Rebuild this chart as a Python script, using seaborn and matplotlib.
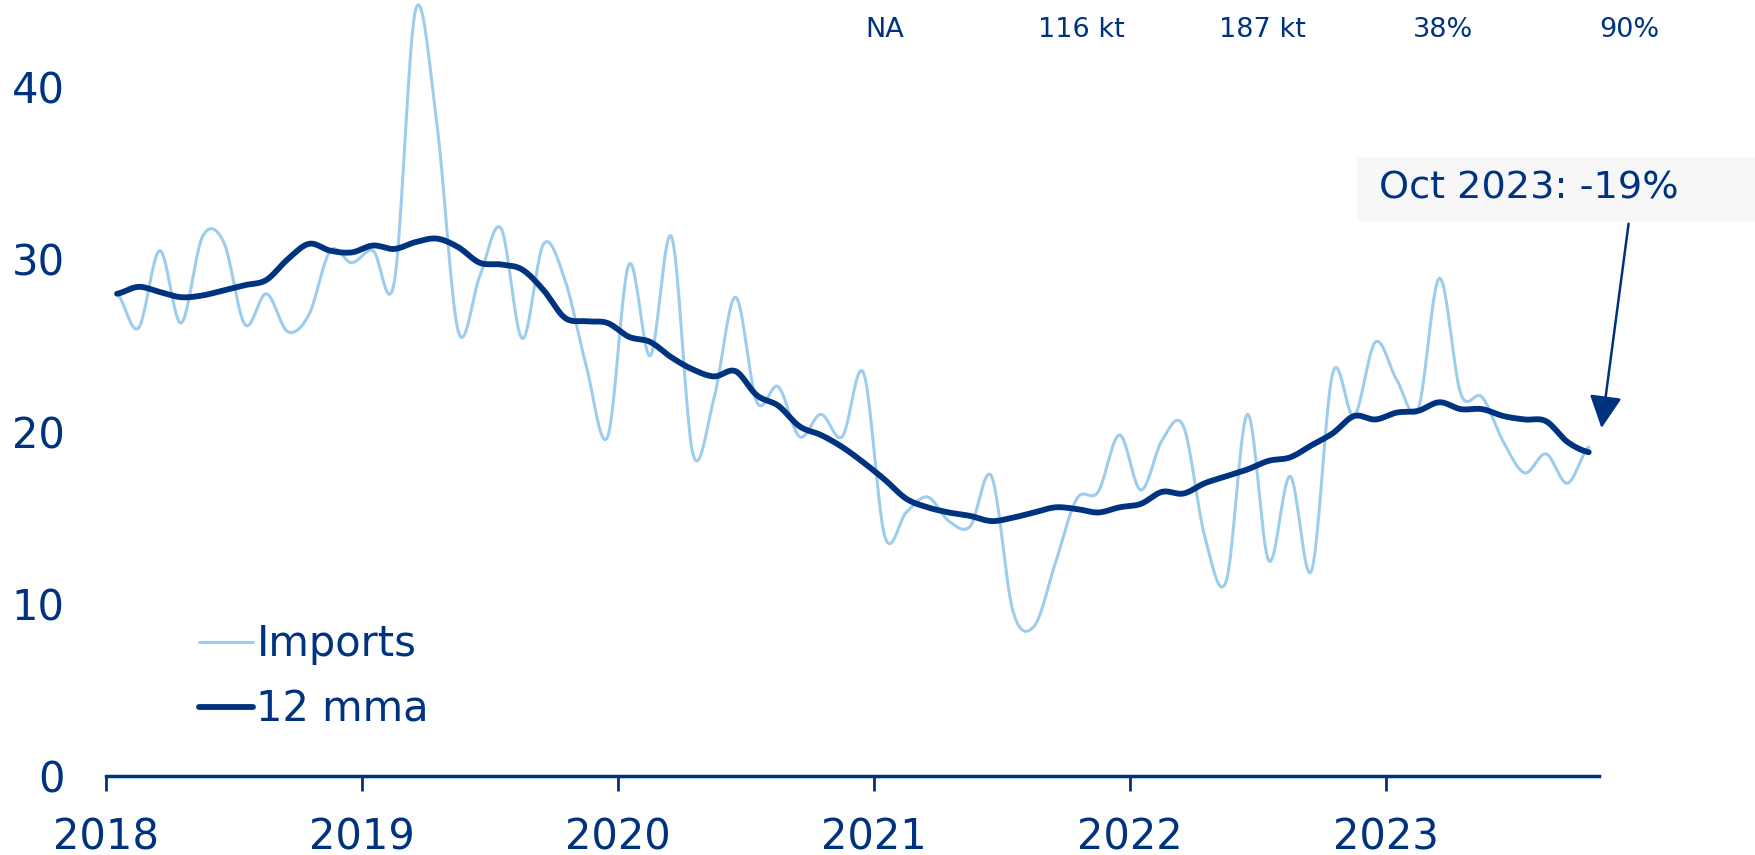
import numpy as np
import pandas as pd
import matplotlib
matplotlib.use("Agg")
import matplotlib.pyplot as plt
import seaborn as sns
from matplotlib.patches import Rectangle

# =========================
# DATA (monthly, Jan 2018 - Oct 2023)
# =========================

year_labels = ["2018", "2019", "2020", "2021", "2022", "2023"]

imports = [
    28.0, 26.0, 30.5, 26.3, 31.3, 31.0, 26.2, 28.0, 25.8, 26.8, 30.5, 29.8,
    30.5, 28.7, 44.5, 37.8, 25.8, 29.0, 31.8, 25.4, 30.9, 28.8, 23.8, 19.7,
    29.7, 24.4, 31.3, 18.7, 22.0, 27.8, 21.7, 22.6, 19.7, 21.0, 19.7, 23.4,
    13.9, 15.3, 16.2, 14.8, 14.5, 17.4, 9.6, 8.7, 12.4, 16.1, 16.5, 19.8,
    16.6, 19.5, 20.3, 13.9, 11.3, 21.0, 12.5, 17.4, 11.9, 23.4, 20.9, 25.2,
    23.0, 21.3, 28.9, 22.2, 22.0, 19.4, 17.6, 18.7, 17.0, 19.1,
]

mma12 = [
    28.0, 28.4, 28.1, 27.8, 27.9, 28.2, 28.5, 28.8, 30.0, 30.9, 30.5, 30.4,
    30.8, 30.6, 31.0, 31.2, 30.7, 29.8, 29.7, 29.4, 28.2, 26.6, 26.4, 26.3,
    25.5, 25.2, 24.3, 23.6, 23.2, 23.5, 22.1, 21.5, 20.3, 19.8, 19.1, 18.2,
    17.2, 16.1, 15.6, 15.3, 15.1, 14.8, 15.0, 15.3, 15.6, 15.5, 15.3, 15.6,
    15.8, 16.5, 16.4, 17.0, 17.4, 17.8, 18.3, 18.5, 19.2, 19.9, 20.9, 20.7,
    21.1, 21.2, 21.7, 21.3, 21.3, 20.9, 20.7, 20.6, 19.4, 18.8,
]

header_labels = ["NA", "116 kt", "187 kt", "38%", "90%"]
header_x = [0.504, 0.616, 0.719, 0.822, 0.928]

note_text = "Oct 2023: -19%"

NAVY = "#00337F"
LIGHT = "#9DCDED"


# smoothed line like Excel (Catmull-Rom through the monthly points)
def smooth(values, steps=20):
    y = np.asarray(values, float)
    p = np.concatenate([[y[0]], y, [y[-1]]])
    xs, ys = [], []
    for i in range(len(y) - 1):
        p0, p1, p2, p3 = p[i], p[i + 1], p[i + 2], p[i + 3]
        t = np.linspace(0, 1, steps, endpoint=False)
        m1 = (p2 - p0) / 2
        m2 = (p3 - p1) / 2
        h00 = 2 * t**3 - 3 * t**2 + 1
        h10 = t**3 - 2 * t**2 + t
        h01 = -2 * t**3 + 3 * t**2
        h11 = t**3 - t**2
        xs.append(i + t)
        ys.append(h00 * p1 + h10 * m1 + h01 * p2 + h11 * m2)
    xs.append([len(y) - 1])
    ys.append([y[-1]])
    return np.concatenate(xs) + 0.5, np.concatenate(ys)


x_imp, y_imp = smooth(imports)
x_mma, y_mma = smooth(mma12)

# =========================
# PLOT
# =========================

sns.set_theme(style="white")
plt.rcParams["font.family"] = ["DejaVu Sans"]

fig = plt.figure(figsize=(17.56, 8.55), dpi=100)

# grey box behind the annotation (drawn before the axes)
fig.patches.append(Rectangle((0.773, 0.742), 0.227, 0.074,
                             transform=fig.transFigure, facecolor="#F7F7F7",
                             edgecolor="none", zorder=-5))

ax = fig.add_axes([0.0606, 0.0924, 0.8502, 0.9065])
ax.patch.set_visible(False)

sns.lineplot(x=x_imp, y=y_imp, ax=ax, color=LIGHT, linewidth=2.2,
             label="Imports", sort=False)
sns.lineplot(x=x_mma, y=y_mma, ax=ax, color=NAVY, linewidth=4.2,
             label="12 mma", sort=False)

ax.set_xlim(0, len(imports))
ax.set_ylim(0, 45)

ax.set_xticks(np.arange(0, 72, 12))
ax.set_xticklabels(year_labels)
ax.set_yticks([0, 10, 20, 30, 40])

for s in ["top", "right", "left"]:
    ax.spines[s].set_visible(False)
ax.spines["bottom"].set_color(NAVY)
ax.spines["bottom"].set_linewidth(2.5)

ax.tick_params(axis="x", colors=NAVY, labelsize=30, length=11, width=2,
               direction="out", pad=18, bottom=True)
ax.tick_params(axis="y", colors=NAVY, labelsize=30, length=0, pad=30)
ax.grid(False)

handles, labels = ax.get_legend_handles_labels()
leg = ax.legend(handles, labels, loc="center left",
                bbox_to_anchor=(0.062, 0.128),
                frameon=False, fontsize=30, handlelength=1.3,
                handletextpad=0.08, labelspacing=0.55, borderpad=0,
                borderaxespad=0)
for t in leg.get_texts():
    t.set_color(NAVY)

# table header values along the top
for lbl, xp in zip(header_labels, header_x):
    fig.text(xp, 0.965, lbl, color=NAVY, fontsize=19.5, ha="center", va="center")

# annotation + arrow
ax.annotate(note_text, xy=(len(mma12) + 0.1, 20.2), xytext=(66.7, 34.1),
            ha="center", va="center", fontsize=27.5, color=NAVY,
            annotation_clip=False,
            arrowprops=dict(arrowstyle="-|>", color=NAVY, lw=1.8,
                            mutation_scale=50, shrinkA=10, shrinkB=0,
                            relpos=(0.84, 0.0)))

fig.savefig("out.png", dpi=100)
